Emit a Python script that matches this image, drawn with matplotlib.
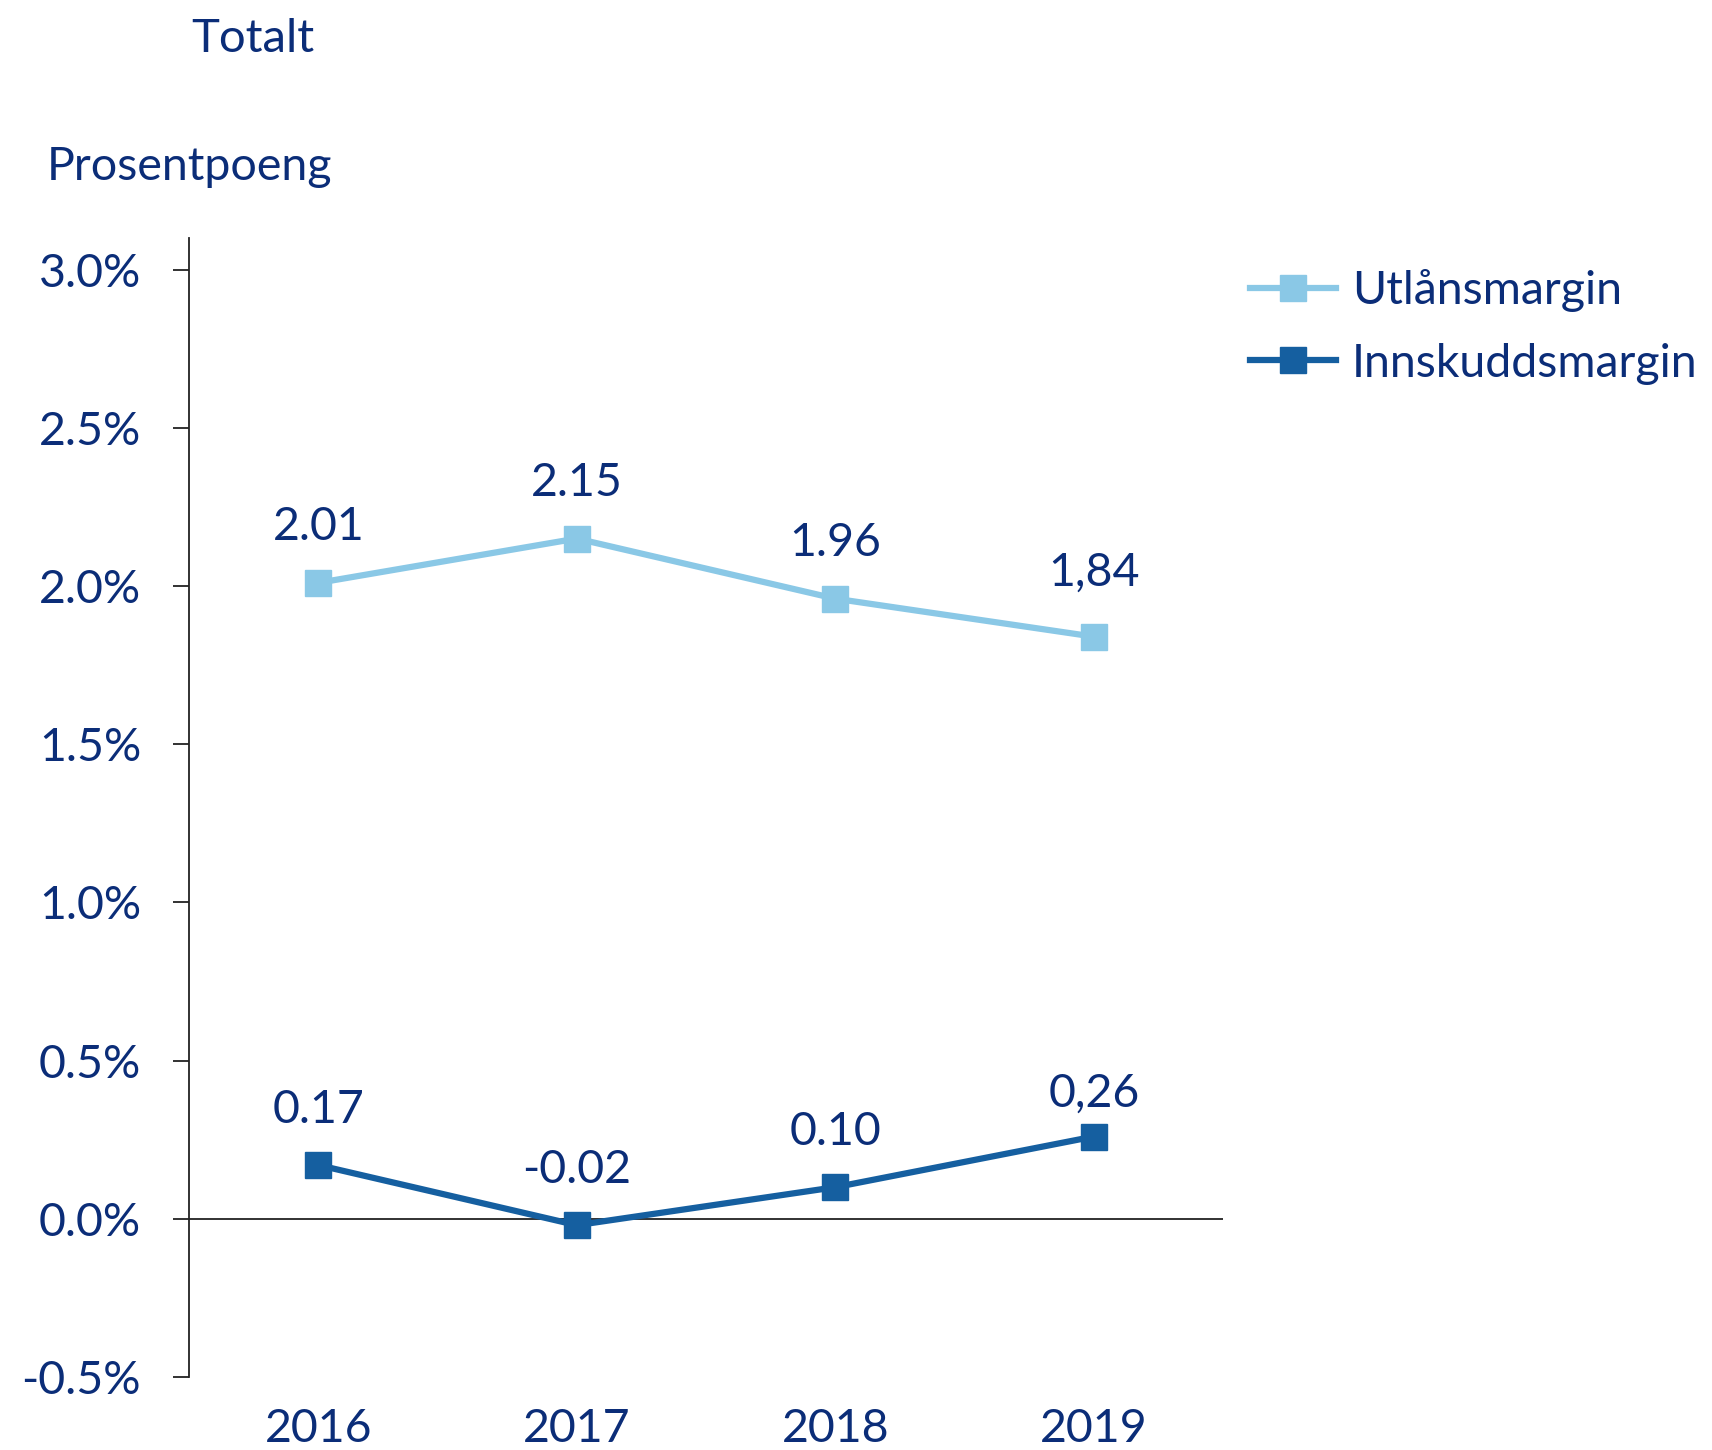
import matplotlib
matplotlib.use("Agg")
import matplotlib.pyplot as plt

years = ["2016", "2017", "2018", "2019"]
utlan = [2.01, 2.15, 1.96, 1.84]
innskudd = [0.17, -0.02, 0.10, 0.26]
utlan_labels = ["2.01", "2.15", "1.96", "1,84"]
innskudd_labels = ["0.17", "-0.02", "0.10", "0,26"]
yticks = [-0.5, 0.0, 0.5, 1.0, 1.5, 2.0, 2.5, 3.0]
ytick_labels = ["-0.5%", "0.0%", "0.5%", "1.0%", "1.5%", "2.0%", "2.5%", "3.0%"]

# label offsets in points (style)
utlan_off = [40, 40, 40, 46]
innskudd_off = [40, 40, 40, 31]

TXT = "#0B2D78"
LIGHT = "#8AC8E6"
DARK = "#155FA0"
FS = 33.5

plt.rcParams['font.family'] = ['Lato', 'DejaVu Sans']

fig = plt.figure(figsize=(17.12, 14.5), dpi=100)
ax = fig.add_axes([0.1104, 0.0503, 0.604, 0.7856])

x = list(range(len(years)))
ax.plot(x, utlan, color=LIGHT, lw=4.5, marker='s', ms=18.5, label="Utlånsmargin", zorder=3)
ax.plot(x, innskudd, color=DARK, lw=4.5, marker='s', ms=18.5, label="Innskuddsmargin", zorder=3)

for xi, v, t, o in zip(x, utlan, utlan_labels, utlan_off):
    ax.annotate(t, (xi, v), xytext=(0, o), textcoords='offset points',
                ha='center', va='center', fontsize=FS, color=TXT)
for xi, v, t, o in zip(x, innskudd, innskudd_labels, innskudd_off):
    ax.annotate(t, (xi, v), xytext=(0, o), textcoords='offset points',
                ha='center', va='center', fontsize=FS, color=TXT)

ax.axhline(0, color='#222222', lw=1.3, zorder=2)

ax.set_xlim(-0.5, 3.5)
ax.set_ylim(-0.5, 3.1)
ax.set_xticks(x)
ax.set_xticklabels(years)
ax.set_yticks(yticks)
ax.set_yticklabels(ytick_labels)
ax.tick_params(axis='x', length=0, pad=22, labelsize=FS, labelcolor=TXT)
ax.tick_params(axis='y', length=11.5, width=1.3, direction='out', pad=23, labelsize=FS, labelcolor=TXT, color='#222222')
for s in ['top', 'right', 'bottom']:
    ax.spines[s].set_visible(False)
ax.spines['left'].set_linewidth(1.3)
ax.spines['left'].set_color('#222222')

leg = fig.legend(loc='upper left', bbox_to_anchor=(0.719, 0.827), frameon=False,
                 fontsize=FS, handlelength=1.85, handletextpad=0.35, labelspacing=0.65,
                 borderaxespad=0, labelcolor=TXT)

fig.text(191 / 1712, 1 - 39 / 1450, "Totalt", fontsize=34, color=TXT, ha='left', va='center')
fig.text(47 / 1712, 1 - 167 / 1450, "Prosentpoeng", fontsize=FS, color=TXT, ha='left', va='center')

fig.savefig("out.png", dpi=100)
